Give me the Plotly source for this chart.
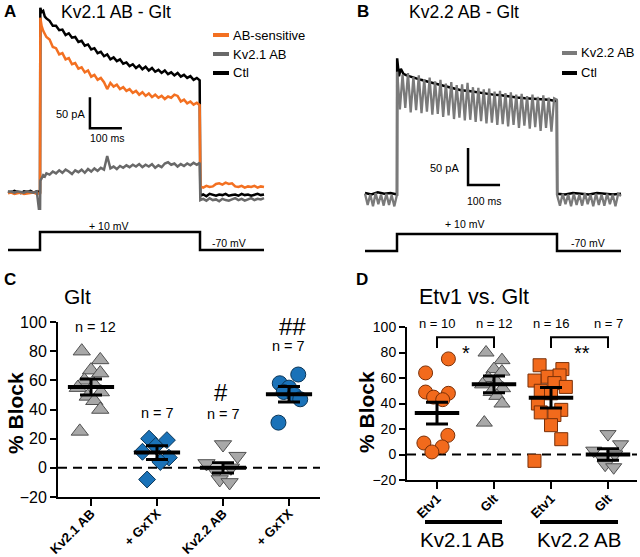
import numpy as np
import plotly.graph_objects as go

W, H = 640, 557
FONT = "Arial, Liberation Sans, sans-serif"

# ---------------- Panel A data (time in ms, current in pA) ----------------
tA_pre = list(range(-100, 1, 10))
tA_on = [1, 5, 10, 15, 20] + list(range(30, 491, 10)) + [499]
tA_post = [501] + list(range(510, 701, 10))

a_ctl_pre = [1, -1, 2, 0, -2, 1, 0, 2, -1, 1, 0]
a_ctl_on = [297, 290, 292, 283, 280,
            276, 268, 268, 261, 262, 253, 256, 249, 250, 242,
            244, 236, 238, 230, 232, 224, 226, 219, 222, 214,
            217, 211, 214, 207, 209, 203, 206, 200, 204, 198,
            202, 196, 200, 194, 197, 192, 196, 190, 193, 188,
            192, 186, 189, 184, 187, 181, 184,
            180]
a_ctl_post = [-6, -4, -7, -3, -5, -6, -4, -5, -3, -6, -5, -4, -6, -3, -5, -4, -6, -5, -3, -5, -4]

a_sens_pre = [-2, -1, -3, -2, -1, -3, -2, -2, -1, -3, -2]
a_sens_on = [281, 268, 260, 254, 250,
             246, 234, 232, 222, 224, 214, 216, 206, 208, 199,
             201, 193, 196, 186, 189, 181, 184, 177, 166, 176,
             170, 173, 166, 169, 163, 166, 160, 163, 157, 161,
             155, 159, 153, 157, 152, 155, 150, 154, 152, 157,
             155, 146, 149, 143, 146, 141, 144,
             140]
a_sens_post = [9, 7, 10, 8, 9, 13, 14, 12, 15, 13, 14, 9, 8, 10, 7, 9, 8, 10, 7, 9, 8]

a_ab_pre = [0, 1, -1, 1, 0, -1, 1, 0, -1, 1, -42]
a_ab_on = [18, 22, 27, 25, 30,
           28, 33, 30, 35, 31, 36, 33, 29, 35, 32,
           36, 31, 37, 33, 38, 34, 39, 36, 58, 38,
           41, 37, 42, 39, 43, 40, 44, 41, 45, 40,
           44, 41, 45, 39, 43, 40, 46, 48, 44, 46,
           41, 45, 42, 46, 43, 47, 44,
           47]
a_ab_post = [-13, -11, -14, -10, -13, -12, -15, -11, -13, -14, -12, -10, -13, -11, -14, -12, -10, -13, -11, -12, -10]

# ---------------- Panel B data ----------------
tB_pre = list(np.linspace(-100, 0, 13))
tB_on = list(np.linspace(0.5, 499.5, 60))
tB_post = list(np.linspace(500.5, 700, 24))

b_ab_pre = [3, -12, 2, -14, 4, -11, 2, -13, 3, -12, 1, -14, 2]
b_ab_on = [168, 117, 164, 119, 166, 113, 161, 116, 163, 112,
           158, 114, 160, 110, 155, 111, 157, 107, 152, 109,
           154, 104, 150, 106, 151, 102, 153, 103, 147, 100,
           146, 101, 144, 98, 145, 99, 141, 96, 142, 97,
           139, 94, 140, 96, 137, 92, 138, 95, 135, 91,
           137, 93, 134, 88, 136, 92, 133, 87, 132, 130]
b_ab_post = [1, -13, 3, -11, 2, -14, 3, -12, 2, -13, 4, -11, 2, -14, 3, -12, 2, -13, 3, -11, 2, -14, 3, 0]

tBk_pre = [-100, -80, -60, -40, -20, 0]
tBk_on = [0.5, 6, 12, 20, 30] + list(range(50, 476, 25)) + [499.5]
tBk_post = [500.5] + list(range(525, 701, 25))
b_ctl_pre = [4, 2, 5, 3, 4, 2]
b_ctl_on = [186, 162, 172, 165, 163,
            160, 157, 154, 151, 148, 146, 143, 142, 140, 139, 137, 136, 134, 133, 132, 131, 130, 130,
            128]
b_ctl_post = [3, 2, 4, 3, 2, 4, 3, 2, 3]

# voltage protocol
v_t = [-100, 0, 0, 500, 500, 700]
v_mV = [-70, -70, 10, 10, -70, -70]

for t, v in [(tA_pre, a_ctl_pre), (tA_on, a_ctl_on), (tA_post, a_ctl_post),
             (tA_pre, a_sens_pre), (tA_on, a_sens_on), (tA_post, a_sens_post),
             (tA_pre, a_ab_pre), (tA_on, a_ab_on), (tA_post, a_ab_post),
             (tB_pre, b_ab_pre), (tB_on, b_ab_on), (tB_post, b_ab_post),
             (tBk_pre, b_ctl_pre), (tBk_on, b_ctl_on), (tBk_post, b_ctl_post)]:
    assert len(t) == len(v), (len(t), len(v))

tA = tA_pre + tA_on + tA_post
tB = tB_pre + tB_on + tB_post
tBk = tBk_pre + tBk_on + tBk_post

# ---------------- Panel C data (% block) ----------------
c_categories = ["Kv2.1 AB", "+ GxTX", "Kv2.2 AB", "+ GxTX"]
c_kv21 = [80, 74, 67, 65, 60, 57, 55, 52, 49, 46, 40, 25]
c_kv21_gx = [20, 19, 15, 11, 7, 4, -8]
c_kv22 = [16, 8, 3, 0, -3, -8, -10]
c_kv22_gx = [64, 58, 55, 52, 50, 47, 31]
c_mean = [55.5, 10.5, 0.0, 50.5]
c_sem = [5.5, 4.7, 3.5, 5.3]
c_n = ["n = 12", "n = 7", "n = 7", "n = 7"]

# ---------------- Panel D data ----------------
d_categories = ["Etv1", "Glt", "Etv1", "Glt"]
d_etv1_kv21 = [75, 64, 49, 48, 45, 43, 15, 9, 6, 2]
d_glt_kv21 = c_kv21
d_etv1_kv22 = [70, 67, 61, 62, 58, 56, 50, 53, 48, 40, 35, 31, 23, 12, -5, 33]
d_glt_kv22 = c_kv22
d_mean = [32.5, 55.0, 44.5, 0.0]
d_sem = [8.5, 6.5, 8.0, 4.5]
d_n = ["n = 10", "n = 12", "n = 16", "n = 7"]

# horizontal spread of points (layout only)
jit_kv21 = [-0.14, 0.14, 0.0, 0.14, -0.1, 0.05, -0.2, 0.15, -0.05, 0.05, 0.14, -0.17]
jit_gx1 = [-0.12, 0.15, -0.02, -0.22, 0.18, 0.05, -0.15]
jit_kv22 = [0.0, 0.22, -0.25, 0.12, -0.1, -0.05, 0.1]
jit_gx2 = [0.14, -0.14, 0.0, -0.08, 0.08, 0.17, -0.16]
jit_etv1_21 = [0.2, -0.2, -0.2, 0.2, -0.06, 0.1, 0.19, -0.23, 0.09, -0.09]
jit_etv1_22 = [-0.2, 0.2, -0.06, 0.15, -0.29, 0.06, -0.18, 0.26, 0, -0.23, 0.18, 0.06, 0, 0.18, -0.29, -0.18]

ORANGE = "rgb(243,112,33)"
GRAY_A = "rgb(105,105,105)"
GRAY_B = "rgb(122,122,122)"
M_GRAY = "#a8a8a8"
M_GRAY_L = "#505050"
M_BLUE = "#1a72b8"
M_BLUE_L = "#0b3658"
M_ORANGE = "#f26a1c"
M_ORANGE_L = "#7a3008"

def PX(x):
    return x / W

def PY(y):
    return 1 - y / H

fig = go.Figure()

# ---- Panel A traces
fig.add_trace(go.Scatter(x=tA, y=a_ctl_pre + a_ctl_on + a_ctl_post, mode="lines",
                         line=dict(color="black", width=2.5), xaxis="x", yaxis="y", name="Ctl"))
fig.add_trace(go.Scatter(x=tA, y=a_sens_pre + a_sens_on + a_sens_post, mode="lines",
                         line=dict(color=ORANGE, width=2.5), xaxis="x", yaxis="y", name="AB-sensitive"))
fig.add_trace(go.Scatter(x=tA, y=a_ab_pre + a_ab_on + a_ab_post, mode="lines",
                         line=dict(color=GRAY_A, width=2.5), xaxis="x", yaxis="y", name="Kv2.1 AB"))
fig.add_trace(go.Scatter(x=v_t, y=v_mV, mode="lines", line=dict(color="black", width=2.5),
                         xaxis="x", yaxis="y2"))

# ---- Panel B traces
fig.add_trace(go.Scatter(x=tBk, y=b_ctl_pre + b_ctl_on + b_ctl_post, mode="lines",
                         line=dict(color="black", width=2.5), xaxis="x2", yaxis="y3", name="Ctl"))
fig.add_trace(go.Scatter(x=tB, y=b_ab_pre + b_ab_on + b_ab_post, mode="lines",
                         line=dict(color=GRAY_B, width=2.3), xaxis="x2", yaxis="y3", name="Kv2.2 AB"))
fig.add_trace(go.Scatter(x=v_t, y=v_mV, mode="lines", line=dict(color="black", width=2.5),
                         xaxis="x2", yaxis="y4"))

# ---- scatter helper
def group(vals, jit, idx, xa, ya, symbol, size, fill, edge):
    fig.add_trace(go.Scatter(x=[idx + j for j in jit], y=vals, mode="markers", xaxis=xa, yaxis=ya,
                             marker=dict(symbol=symbol, size=size, color=fill,
                                         line=dict(color=edge, width=1))))

def summary(means, sems, half, xa, ya):
    for i, m in enumerate(means):
        fig.add_trace(go.Scatter(x=[i - half, i + half], y=[m, m], mode="lines",
                                 line=dict(color="black", width=4), xaxis=xa, yaxis=ya))
    fig.add_trace(go.Scatter(x=list(range(len(means))), y=means, mode="markers",
                             marker=dict(size=1, color="rgba(0,0,0,0)"), xaxis=xa, yaxis=ya,
                             error_y=dict(type="data", array=sems, width=11, thickness=3, color="black")))

# ---- Panel C
group(c_kv21, jit_kv21, 0, "x3", "y5", "triangle-up", 15, M_GRAY, M_GRAY_L)
group(c_kv21_gx, jit_gx1, 1, "x3", "y5", "diamond", 13, M_BLUE, M_BLUE_L)
group(c_kv22, jit_kv22, 2, "x3", "y5", "triangle-down", 15, M_GRAY, M_GRAY_L)
group(c_kv22_gx, jit_gx2, 3, "x3", "y5", "circle", 15, M_BLUE, M_BLUE_L)
summary(c_mean, c_sem, 0.35, "x3", "y5")

# ---- Panel D
group(d_etv1_kv21, jit_etv1_21, 0, "x4", "y6", "circle", 14, M_ORANGE, M_ORANGE_L)
group(d_glt_kv21, jit_kv21, 1, "x4", "y6", "triangle-up", 14, M_GRAY, M_GRAY_L)
group(d_etv1_kv22, jit_etv1_22, 2, "x4", "y6", "square", 13, M_ORANGE, M_ORANGE_L)
group(d_glt_kv22, jit_kv22, 3, "x4", "y6", "triangle-down", 14, M_GRAY, M_GRAY_L)
summary(d_mean, d_sem, 0.39, "x4", "y6")

hidden = dict(visible=False, fixedrange=True, automargin=False)

def cat_x(domain_px, rng, ticktext, size, anchor, standoff):
    return dict(domain=[PX(domain_px[0]), PX(domain_px[1])], range=rng, tickvals=[0, 1, 2, 3],
                ticktext=ticktext, tickangle=-45, showline=True, linewidth=2, linecolor="black",
                ticks="outside", ticklen=7, tickwidth=2, tickcolor="black", showgrid=False,
                zeroline=False, tickfont=dict(family=FONT, size=size, color="black", weight="bold"),
                ticklabelstandoff=standoff,
                fixedrange=True, automargin=False, anchor=anchor)

def val_y(domain_py, size, anchor):
    return dict(domain=[PY(domain_py[1]), PY(domain_py[0])], range=[-20, 100],
                tickvals=[-20, 0, 20, 40, 60, 80, 100], showline=True, linewidth=2, linecolor="black",
                ticks="outside", ticklen=6, tickwidth=2, tickcolor="black", showgrid=False,
                zeroline=False, tickfont=dict(family=FONT, size=size, color="black"),
                anchor=anchor, fixedrange=True, automargin=False)

layout = dict(
    width=W, height=H, margin=dict(l=0, r=0, t=0, b=0, pad=0, autoexpand=False), showlegend=False,
    paper_bgcolor="white", plot_bgcolor="white", font=dict(family=FONT, color="black"),
    xaxis=dict(hidden, domain=[0, 0.5], range=[-125, 875], anchor="y"),
    yaxis=dict(hidden, domain=[PY(220), 1], range=[(192 - 220) / 0.62, 192 / 0.62], anchor="x"),
    yaxis2=dict(hidden, domain=[PY(265), PY(210)], range=[-70 - 15 / 0.225, -70 + 40 / 0.225], anchor="x"),
    xaxis2=dict(hidden, domain=[0.5, 1], range=[(320 - 397) / 0.32, (640 - 397) / 0.32], anchor="y3"),
    yaxis3=dict(hidden, domain=[PY(220), 1], range=[(196 - 220) / 0.74, 196 / 0.74], anchor="x2"),
    yaxis4=dict(hidden, domain=[PY(265), PY(210)], range=[-70 - 14 / 0.2125, -70 + 41 / 0.2125], anchor="x2"),
    xaxis3=cat_x((58, 320), [-0.5, (320 - 91) / 66], c_categories, 13, "y5", -5),
    yaxis5=val_y((322, 497), 16, "x3"),
    xaxis4=cat_x((407, 637), [-30 / 57, (637 - 437) / 57], d_categories, 13, "y6", -3),
    yaxis6=val_y((327, 480), 14, "x4"),
)

shapes = []
annotations = []

def ann(text, x, y, size, xanchor="center", yanchor="middle", bold=False, angle=0,
        xref="paper", yref="paper"):
    if xref == "paper":
        x = PX(x)
    if yref == "paper":
        y = PY(y)
    annotations.append(dict(text=("<b>%s</b>" % text) if bold else text, x=x, y=y,
                            xref=xref, yref=yref, xanchor=xanchor, yanchor=yanchor,
                            showarrow=False, textangle=angle,
                            font=dict(family=FONT, size=size, color="black")))

def pline(x0, y0, x1, y1, color="black", width=4):
    shapes.append(dict(type="line", xref="paper", yref="paper", x0=PX(x0), y0=PY(y0),
                       x1=PX(x1), y1=PY(y1), line=dict(color=color, width=width)))

# panel labels and titles
ann("A", 10, 11, 17, bold=True)
ann("Kv2.1 AB - Glt", 59, 12, 17.5, xanchor="left")
ann("B", 363, 11, 17, bold=True)
ann("Kv2.2 AB - Glt", 407, 12, 17.5, xanchor="left")
ann("C", 10, 279, 17, bold=True)
ann("Glt", 62, 296, 21, xanchor="left")
ann("D", 362, 279, 17, bold=True)
ann("Etv1 vs. Glt", 417, 297, 21.5, xanchor="left")

# legends
for label, color, y in [("AB-sensitive", ORANGE, 35), ("Kv2.1 AB", GRAY_A, 54), ("Ctl", "black", 73)]:
    pline(213, y, 229, y, color, 4)
    ann(label, 231, y, 13, xanchor="left")
for label, color, y in [("Kv2.2 AB", GRAY_B, 53), ("Ctl", "black", 73)]:
    pline(562, y, 577, y, color, 4)
    ann(label, 579, y, 13, xanchor="left")

# scale bars (data units)
for xa, ya, t0, i0 in [("x", "y", 156, 103), ("x2", "y3", 222, 15)]:
    shapes.append(dict(type="path", xref=xa, yref=ya,
                       path="M %g %g L %g %g L %g %g" % (t0, i0 + 50, t0, i0, t0 + 100, i0),
                       line=dict(color="black", width=2.5)))
ann("50 pA", 87, 114, 11, xanchor="right")
ann("100 ms", 107, 138, 10.5)
ann("50 pA", 444, 168, 11)
ann("100 ms", 484, 201, 10.5)
ann("+ 10 mV", 108, 226, 10.5)
ann("-70 mV", 229, 243, 10.5)
ann("+ 10 mV", 464, 224, 10.5)
ann("-70 mV", 588, 243, 10.5)

# zero lines
for xa, ya in [("x3", "y5"), ("x4", "y6")]:
    shapes.append(dict(type="line", xref=xa + " domain", yref=ya, x0=0, x1=1, y0=0, y1=0,
                       line=dict(color="black", width=2, dash="9px,6px"), layer="below"))

# y titles
ann("% Block", 15, 413, 21, bold=True, angle=-90)
ann("% Block", 366, 412, 21, bold=True, angle=-90)

# C annotations
ann(c_n[0], 95, 327, 14.5)
ann(c_n[1], 157, 413, 14.5)
ann(c_n[2], 223, 414, 14.5)
ann(c_n[3], 288, 346, 14.5)
ann("#", 221, 392, 24)
ann("##", 292, 326, 24)

# D annotations
for i, txt in enumerate(d_n):
    ann(txt, 437 + 57 * i, 323, 13)
for a, b in [(0, 1), (2, 3)]:
    shapes.append(dict(type="path", xref="x4", yref="y6",
                       path="M %g 83.5 L %g 92 L %g 92 L %g 83.5" % (a, a, b, b),
                       line=dict(color="black", width=2)))
ann("*", 466, 353, 20)
ann("**", 582, 353, 20)
pline(425, 522, 502, 522, "black", 4)
pline(540, 522, 618, 522, "black", 4)
ann("Kv2.1 AB", 462, 539, 20.5)
ann("Kv2.2 AB", 579, 539, 20.5)

layout["shapes"] = shapes
layout["annotations"] = annotations
fig.update_layout(**layout)
fig.write_html("out.html", config={"displayModeBar": False, "staticPlot": True},
               post_script="document.body.style.margin='0px';document.body.style.overflow='hidden';")
